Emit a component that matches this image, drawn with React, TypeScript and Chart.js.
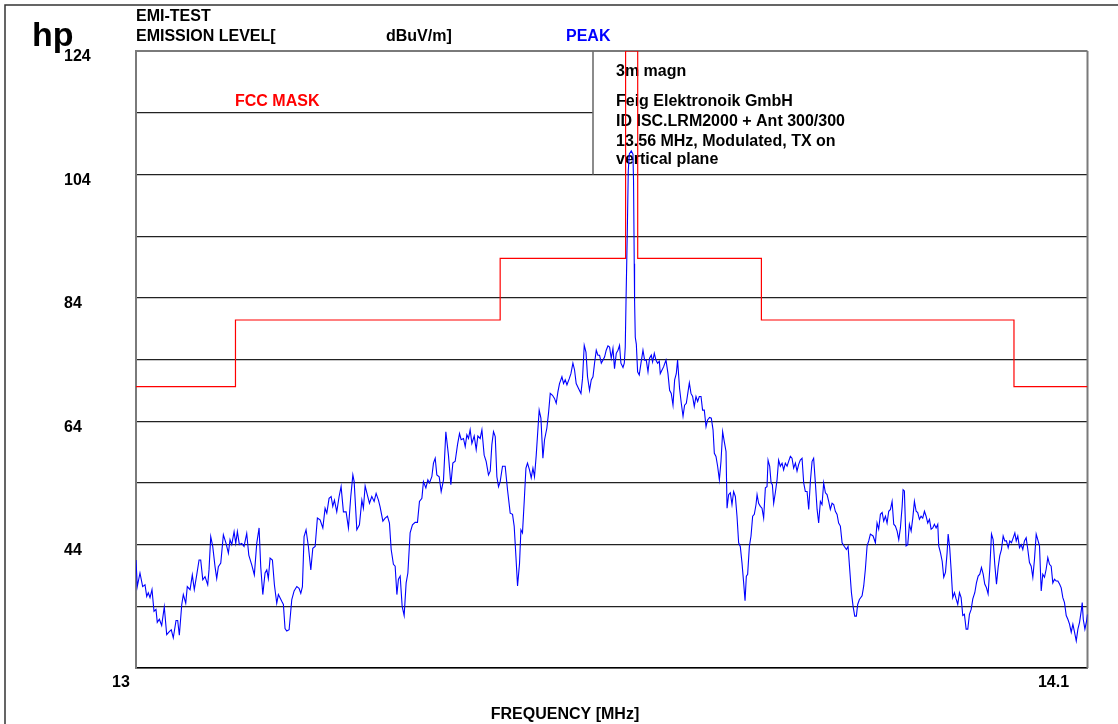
import React, { useEffect, useRef } from "react";
import { Chart, registerables } from "chart.js";

Chart.register(...registerables);

// ---- data ----
const traceFreq: number[] = [
  13.0000, 13.0015, 13.0046, 13.0077, 13.0104, 13.0124, 13.0142, 13.0162, 13.0185, 13.0208,
  13.0231, 13.0246, 13.0270, 13.0297, 13.0327, 13.0355, 13.0385, 13.0408, 13.0431, 13.0463,
  13.0482, 13.0501, 13.0529, 13.0547, 13.0575, 13.0593, 13.0625, 13.0651, 13.0674, 13.0702,
  13.0729, 13.0748, 13.0772, 13.0798, 13.0829, 13.0844, 13.0864, 13.0887, 13.0914, 13.0933,
  13.0952, 13.0980, 13.1010, 13.1041, 13.1068, 13.1087, 13.1107, 13.1134, 13.1153, 13.1172,
  13.1195, 13.1223, 13.1249, 13.1280, 13.1304, 13.1338, 13.1368, 13.1396, 13.1423, 13.1442,
  13.1466, 13.1492, 13.1512, 13.1530, 13.1550, 13.1577, 13.1600, 13.1627, 13.1646, 13.1685,
  13.1704, 13.1723, 13.1743, 13.1770, 13.1801, 13.1828, 13.1859, 13.1885, 13.1905, 13.1924,
  13.1943, 13.1966, 13.1993, 13.2021, 13.2044, 13.2071, 13.2097, 13.2128, 13.2160, 13.2186,
  13.2206, 13.2232, 13.2256, 13.2275, 13.2294, 13.2321, 13.2348, 13.2371, 13.2398, 13.2429,
  13.2456, 13.2483, 13.2507, 13.2522, 13.2553, 13.2583, 13.2611, 13.2629, 13.2649, 13.2675,
  13.2699, 13.2726, 13.2753, 13.2776, 13.2803, 13.2822, 13.2854, 13.2880, 13.2907, 13.2930,
  13.2950, 13.2976, 13.2996, 13.3016, 13.3034, 13.3054, 13.3077, 13.3100, 13.3123, 13.3143,
  13.3169, 13.3196, 13.3227, 13.3254, 13.3277, 13.3305, 13.3323, 13.3351, 13.3374, 13.3393,
  13.3420, 13.3439, 13.3459, 13.3478, 13.3505, 13.3528, 13.3555, 13.3582, 13.3612, 13.3640,
  13.3663, 13.3690, 13.3717, 13.3740, 13.3759, 13.3786, 13.3806, 13.3825, 13.3844, 13.3863,
  13.3883, 13.3910, 13.3933, 13.3952, 13.3979, 13.3999, 13.4025, 13.4048, 13.4075, 13.4095,
  13.4114, 13.4133, 13.4153, 13.4172, 13.4191, 13.4210, 13.4237, 13.4268, 13.4295, 13.4326,
  13.4353, 13.4372, 13.4392, 13.4411, 13.4434, 13.4450, 13.4468, 13.4488, 13.4508, 13.4526,
  13.4549, 13.4569, 13.4589, 13.4607, 13.4627, 13.4646, 13.4661, 13.4681, 13.4704, 13.4723,
  13.4750, 13.4769, 13.4789, 13.4815, 13.4838, 13.4858, 13.4878, 13.4896, 13.4924, 13.4943,
  13.4962, 13.4982, 13.5009, 13.5028, 13.5051, 13.5070, 13.5089, 13.5116, 13.5144, 13.5162,
  13.5182, 13.5202, 13.5220, 13.5243, 13.5263, 13.5283, 13.5301, 13.5321, 13.5340, 13.5359,
  13.5379, 13.5398, 13.5417, 13.5436, 13.5456, 13.5475, 13.5494, 13.5514, 13.5532, 13.5552,
  13.5572, 13.5590, 13.5606, 13.5630, 13.5645, 13.5656, 13.5665, 13.5680, 13.5691, 13.5703,
  13.5726, 13.5745, 13.5752, 13.5760, 13.5764, 13.5772, 13.5784, 13.5799, 13.5818, 13.5838,
  13.5861, 13.5880, 13.5899, 13.5919, 13.5937, 13.5957, 13.5972, 13.5992, 13.6011, 13.6030,
  13.6050, 13.6061, 13.6081, 13.6099, 13.6127, 13.6150, 13.6169, 13.6188, 13.6208, 13.6227,
  13.6246, 13.6261, 13.6284, 13.6304, 13.6324, 13.6342, 13.6362, 13.6382, 13.6397, 13.6416,
  13.6435, 13.6454, 13.6474, 13.6493, 13.6512, 13.6532, 13.6550, 13.6570, 13.6590, 13.6608,
  13.6631, 13.6651, 13.6671, 13.6686, 13.6705, 13.6724, 13.6744, 13.6763, 13.6782, 13.6801,
  13.6821, 13.6833, 13.6851, 13.6871, 13.6890, 13.6909, 13.6929, 13.6948, 13.6967, 13.6986,
  13.7006, 13.7025, 13.7041, 13.7056, 13.7071, 13.7091, 13.7110, 13.7129, 13.7148, 13.7168,
  13.7180, 13.7198, 13.7218, 13.7237, 13.7256, 13.7276, 13.7295, 13.7307, 13.7326, 13.7342,
  13.7357, 13.7372, 13.7391, 13.7411, 13.7429, 13.7449, 13.7469, 13.7487, 13.7507, 13.7527,
  13.7545, 13.7565, 13.7584, 13.7603, 13.7623, 13.7642, 13.7661, 13.7680, 13.7700, 13.7719,
  13.7738, 13.7758, 13.7777, 13.7796, 13.7816, 13.7834, 13.7854, 13.7874, 13.7892, 13.7912,
  13.7931, 13.7950, 13.7970, 13.7989, 13.8008, 13.8027, 13.8047, 13.8066, 13.8085, 13.8105,
  13.8123, 13.8143, 13.8163, 13.8189, 13.8213, 13.8232, 13.8251, 13.8271, 13.8290, 13.8309,
  13.8328, 13.8343, 13.8363, 13.8394, 13.8413, 13.8432, 13.8452, 13.8471, 13.8490, 13.8521,
  13.8548, 13.8567, 13.8586, 13.8606, 13.8626, 13.8644, 13.8664, 13.8683, 13.8702, 13.8722,
  13.8741, 13.8760, 13.8779, 13.8799, 13.8818, 13.8837, 13.8857, 13.8868, 13.8883, 13.8903,
  13.8922, 13.8941, 13.8961, 13.8980, 13.8999, 13.9019, 13.9037, 13.9057, 13.9076, 13.9095,
  13.9115, 13.9134, 13.9153, 13.9173, 13.9192, 13.9211, 13.9230, 13.9250, 13.9269, 13.9280,
  13.9300, 13.9320, 13.9338, 13.9358, 13.9377, 13.9389, 13.9407, 13.9423, 13.9442, 13.9462,
  13.9481, 13.9500, 13.9520, 13.9539, 13.9558, 13.9577, 13.9597, 13.9616, 13.9635, 13.9655,
  13.9674, 13.9697, 13.9716, 13.9736, 13.9755, 13.9774, 13.9794, 13.9812, 13.9832, 13.9851,
  13.9870, 13.9890, 13.9909, 13.9928, 13.9948, 13.9967, 13.9986, 14.0005, 14.0025, 14.0044,
  14.0063, 14.0083, 14.0102, 14.0121, 14.0141, 14.0160, 14.0176, 14.0194, 14.0214, 14.0233,
  14.0252, 14.0271, 14.0291, 14.0310, 14.0329, 14.0349, 14.0368, 14.0387, 14.0407, 14.0425,
  14.0445, 14.0465, 14.0483, 14.0503, 14.0522, 14.0541, 14.0561, 14.0580, 14.0599, 14.0619,
  14.0638, 14.0657, 14.0677, 14.0696, 14.0715, 14.0734, 14.0754, 14.0773, 14.0792, 14.0812,
  14.0831, 14.0850, 14.0870, 14.0889, 14.0908, 14.0928, 14.0939, 14.0951, 14.0970, 14.0989,
  14.1000,
];

const traceLevel: number[] = [
  41.5, 37.2, 39.4, 37.2, 37.5, 35.6, 36.2, 35.4, 36.7, 33.2,
  33.5, 31.4, 31.9, 30.9, 33.9, 29.4, 29.9, 30.2, 28.9, 31.7,
  31.7, 29.3, 34.3, 35.9, 34.5, 37.2, 36.7, 39.1, 36.7, 39.1,
  41.5, 41.5, 38.3, 38.8, 37.5, 39.9, 45.3, 43.7, 40.4, 38.5,
  40.4, 41.0, 45.6, 44.2, 42.6, 44.8, 44.0, 46.1, 44.2, 46.1,
  44.0, 44.2, 43.7, 45.8, 42.3, 40.7, 39.1, 44.2, 46.7, 40.4,
  35.9, 39.4, 39.9, 38.5, 41.8, 41.5, 37.5, 34.5, 35.9, 34.8,
  34.3, 30.4, 30.0, 30.2, 35.1, 36.5, 37.2, 36.9, 36.1, 37.2,
  45.3, 46.4, 43.7, 39.9, 43.4, 43.7, 48.3, 48.0, 46.7, 49.9,
  49.1, 51.5, 51.8, 50.2, 51.2, 49.3, 51.8, 53.4, 49.3, 49.3,
  46.7, 51.8, 55.3, 54.2, 46.4, 47.2, 51.2, 49.9, 53.5, 52.0,
  50.7, 51.8, 51.0, 52.3, 51.2, 50.1, 47.8, 48.3, 48.6, 47.5,
  43.2, 40.8, 40.5, 35.9, 38.4, 38.9, 34.0, 32.5, 37.8, 39.4,
  45.9, 47.2, 47.6, 47.6, 51.0, 51.5, 54.2, 53.2, 54.5, 54.0,
  55.0, 57.2, 58.0, 55.3, 55.0, 52.6, 54.5, 62.3, 58.5, 53.7,
  57.2, 57.5, 60.2, 62.0, 61.0, 61.2, 59.9, 61.8, 61.2, 62.6,
  60.4, 61.6, 59.4, 61.6, 61.2, 62.6, 58.5, 57.5, 55.3, 55.9,
  60.2, 62.3, 61.5, 55.0, 53.4, 54.2, 56.7, 56.7, 52.9, 49.1,
  48.9, 47.0, 42.1, 37.3, 41.0, 46.4, 45.9, 51.0, 56.4, 57.2,
  56.1, 54.8, 56.4, 55.0, 58.5, 62.6, 65.8, 64.5, 58.0, 61.0,
  62.9, 65.3, 68.5, 68.2, 67.7, 66.9, 68.8, 70.1, 71.2, 70.1,
  70.7, 69.9, 70.9, 71.7, 73.4, 72.3, 70.1, 69.3, 68.5, 70.9,
  76.3, 75.2, 71.2, 69.0, 70.7, 71.2, 73.4, 75.5, 74.7, 74.7,
  73.4, 73.9, 74.4, 75.5, 76.2, 76.0, 74.2, 75.8, 72.5, 75.0,
  75.5, 76.3, 73.4, 72.7, 73.4, 76.0, 83.5, 94.9, 104.6, 107.3,
  107.8, 107.3, 102.9, 89.5, 83.5, 77.6, 76.5, 72.0, 71.5, 73.4,
  75.5, 73.9, 73.9, 72.0, 74.2, 74.7, 73.6, 75.0, 73.9, 73.4,
  73.7, 71.7, 72.3, 72.8, 73.9, 71.7, 69.0, 68.5, 66.6, 70.7,
  71.7, 73.9, 69.3, 66.9, 64.8, 66.6, 66.9, 68.8, 70.2, 68.5,
  68.0, 66.4, 68.0, 67.2, 68.0, 68.0, 65.8, 65.8, 63.1, 64.2,
  64.6, 64.5, 62.6, 58.8, 58.3, 56.7, 54.5, 57.5, 62.3, 60.7,
  59.1, 49.9, 52.1, 52.4, 50.5, 52.6, 51.8, 48.6, 44.3, 43.7,
  41.0, 37.8, 34.9, 38.9, 39.2, 43.7, 45.4, 48.6, 48.9, 50.5,
  52.1, 50.7, 50.2, 49.9, 48.3, 53.2, 53.4, 57.7, 56.7, 54.0,
  53.7, 50.7, 52.4, 54.5, 57.7, 56.7, 57.2, 56.1, 57.2, 56.7,
  57.5, 58.3, 58.0, 56.4, 57.2, 55.9, 57.0, 57.7, 58.0, 54.0,
  52.6, 52.6, 49.7, 54.2, 57.5, 58.0, 54.0, 49.7, 47.5, 51.0,
  50.5, 54.0, 52.4, 52.1, 51.0, 49.7, 50.7, 50.5, 49.4, 48.9,
  47.5, 47.0, 44.3, 43.7, 43.2, 43.7, 40.0, 36.2, 34.0, 32.4,
  32.4, 34.3, 35.1, 35.7, 37.3, 40.0, 43.8, 44.6, 45.7, 45.4,
  44.3, 47.5, 46.5, 48.9, 49.2, 47.8, 48.6, 47.5, 49.4, 49.7,
  51.0, 47.3, 47.0, 46.2, 44.8, 46.7, 50.2, 52.9, 52.7, 43.8,
  44.0, 47.3, 46.2, 48.3, 51.0, 49.4, 49.2, 48.1, 48.6, 48.3,
  49.4, 48.6, 47.5, 48.1, 46.5, 46.7, 47.3, 46.7, 47.3, 43.8,
  42.7, 41.3, 38.7, 39.5, 42.7, 45.7, 43.5, 40.0, 35.4, 36.2,
  35.2, 34.3, 36.2, 35.4, 32.5, 32.7, 30.3, 30.3, 32.7, 33.5,
  35.2, 36.2, 37.8, 38.9, 39.2, 40.3, 39.2, 37.6, 37.0, 36.0,
  40.0, 45.7, 44.8, 40.8, 37.6, 40.3, 42.2, 43.2, 45.4, 44.6,
  44.6, 43.5, 44.6, 44.3, 45.1, 45.9, 44.6, 45.4, 43.5, 44.0,
  43.2, 44.6, 45.1, 43.2, 41.1, 40.5, 38.7, 41.6, 45.7, 44.8,
  43.8, 36.5, 39.2, 38.7, 40.0, 41.9, 40.8, 40.5, 37.8, 38.4,
  38.1, 38.1, 37.6, 37.0, 35.4, 34.6, 32.5, 31.9, 31.1, 29.8,
  31.1, 29.8, 28.4, 30.3, 31.4, 33.3, 34.6, 31.9, 30.3, 31.6,
  32.7,
];

// FCC mask: each level holds from its frequency up to the next one
const maskFreq: number[] = [13.0, 13.115, 13.421, 13.566, 13.58, 13.723, 14.015, 14.1];
const maskLevel: number[] = [69.6, 80.4, 90.4, 124, 90.4, 80.4, 69.6, 69.6];

const yLabelledTicks: number[] = [124, 104, 84, 64, 44];
const xTickValues: number[] = [13, 14.1];
const xTickLabels: string[] = ["13", "14.1"];

const legendLines: string[] = [
  "3m magn",
  "Feig Elektronoik GmbH",
  "ID ISC.LRM2000 + Ant 300/300",
  "13.56 MHz, Modulated, TX on",
  "vertical plane",
];

const FONT = '"Liberation Sans", Arial, Helvetica, sans-serif';
const TXT = 16;

const decorPlugin = {
  id: "decor",
  beforeDatasetsDraw(chart: any) {
    const { ctx, chartArea: ca, scales } = chart;
    const y = scales.y;
    const boxLeft = ca.left + 457;
    const boxBottom = y.getPixelForValue(104);
    ctx.save();
    // legend box (covers the grid inside it)
    ctx.fillStyle = "#ffffff";
    ctx.fillRect(boxLeft, ca.top + 1, ca.right - boxLeft, boxBottom - ca.top - 2);
    ctx.strokeStyle = "#6e6e6e";
    ctx.lineWidth = 1.6;
    ctx.beginPath();
    ctx.moveTo(boxLeft, ca.top);
    ctx.lineTo(boxLeft, boxBottom);
    ctx.stroke();
    // right frame
    ctx.strokeStyle = "#7a7a7a";
    ctx.lineWidth = 2;
    ctx.beginPath();
    ctx.moveTo(ca.right, ca.top);
    ctx.lineTo(ca.right, ca.bottom);
    ctx.stroke();
    // legend text
    ctx.fillStyle = "#000";
    ctx.font = `bold ${TXT}px ${FONT}`;
    ctx.textAlign = "left";
    ctx.textBaseline = "alphabetic";
    const tx = boxLeft + 23;
    const ys = [ca.top + 25, ca.top + 55, ca.top + 75, ca.top + 95, ca.top + 113];
    legendLines.forEach((l, i) => ctx.fillText(l, tx, ys[i]));
    ctx.restore();
  },
  afterDraw(chart: any) {
    const { ctx, chartArea: ca, scales, width, height } = chart;
    const x = scales.x;
    ctx.save();
    // outer frame
    ctx.strokeStyle = "#333";
    ctx.lineWidth = 1.5;
    ctx.beginPath();
    ctx.moveTo(5, height);
    ctx.lineTo(5, 5);
    ctx.lineTo(width, 5);
    ctx.stroke();

    ctx.textBaseline = "alphabetic";
    ctx.textAlign = "left";
    ctx.fillStyle = "#000";
    ctx.font = `bold 34px ${FONT}`;
    ctx.fillText("hp", 32, 46);

    ctx.font = `bold ${TXT}px ${FONT}`;
    ctx.fillText("EMI-TEST", ca.left, 21);
    ctx.fillText("EMISSION LEVEL[", ca.left, 41);
    ctx.fillText("dBuV/m]", ca.left + 250, 41);
    ctx.fillStyle = "#0000ff";
    ctx.fillText("PEAK", ca.left + 430, 41);
    ctx.fillStyle = "#ff0000";
    ctx.fillText("FCC MASK", ca.left + 99, ca.top + 55);

    // x tick labels (placed just left of their values, as in the source)
    ctx.fillStyle = "#000";
    ctx.textAlign = "center";
    const shifts = [-15, -34];
    xTickValues.forEach((v, i) => {
      ctx.fillText(xTickLabels[i], x.getPixelForValue(v) + shifts[i], ca.bottom + 19);
    });
    ctx.fillText("FREQUENCY [MHz]", 565, ca.bottom + 51);
    ctx.restore();
  },
};

export default function App() {
  const canvasRef = useRef<HTMLCanvasElement | null>(null);

  useEffect(() => {
    const canvas = canvasRef.current;
    if (!canvas) return;
    const trace = traceFreq.map((f, i) => ({ x: f, y: traceLevel[i] }));
    const mask = maskFreq.map((f, i) => ({ x: f, y: maskLevel[i] }));
    const chart = new Chart(canvas, {
      type: "line",
      data: {
        datasets: [
          {
            label: "PEAK",
            data: trace,
            borderColor: "#0000ff",
            borderWidth: 1.1,
            pointRadius: 0,
            tension: 0,
            fill: false,
          },
          {
            label: "FCC MASK",
            data: mask,
            borderColor: "#ff0000",
            borderWidth: 1.2,
            pointRadius: 0,
            stepped: "before",
            fill: false,
          },
        ],
      },
      options: {
        animation: false,
        responsive: false,
        maintainAspectRatio: false,
        events: [],
        layout: { padding: { left: 64, top: 51, right: 30.5, bottom: 0 } },
        plugins: {
          legend: { display: false },
          tooltip: { enabled: false },
          title: { display: false },
        },
        scales: {
          x: {
            type: "linear",
            min: 13,
            max: 14.1,
            grid: { display: false },
            border: { display: true, color: "#000", width: 1.6 },
            ticks: { display: false },
            afterFit: (s: any) => {
              s.height = 56;
            },
          },
          y: {
            type: "linear",
            min: 24,
            max: 124,
            grid: {
              drawTicks: false,
              color: (c: any) => (c.tick && c.tick.value === 124 ? "#7a7a7a" : "#222"),
              lineWidth: (c: any) => (c.tick && c.tick.value === 124 ? 2 : 1.2),
            },
            border: { display: true, color: "#7a7a7a", width: 2 },
            ticks: {
              stepSize: 10,
              padding: 0,
              crossAlign: "far",
              labelOffset: 6,
              color: "#000",
              font: { family: FONT, size: TXT, weight: "bold" },
              callback: (v: any) => (yLabelledTicks.includes(Number(v)) ? String(v) : ""),
            },
            afterFit: (s: any) => {
              s.width = 72;
            },
          },
        },
      },
      plugins: [decorPlugin],
    });
    return () => chart.destroy();
  }, []);

  return (
    <div style={{ position: "fixed", left: 0, top: 0, width: 1118, height: 724, background: "#fff" }}>
      <canvas ref={canvasRef} width={1118} height={724} style={{ display: "block", width: 1118, height: 724 }} />
    </div>
  );
}
